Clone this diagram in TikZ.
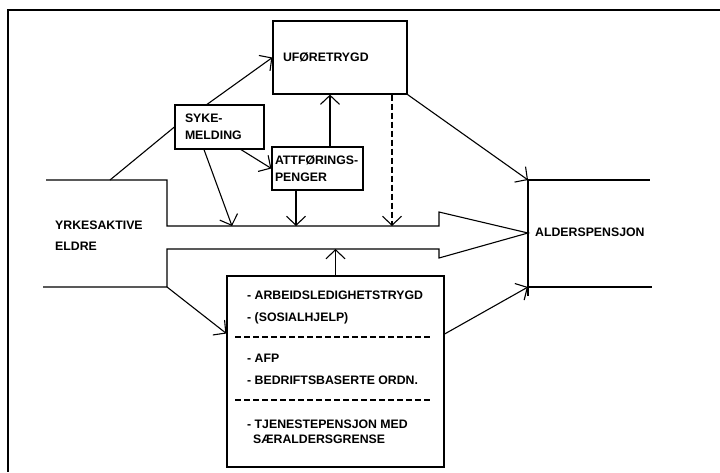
\documentclass[tikz,border=0pt]{standalone}
\usepackage{fontspec}
\setmainfont{Liberation Sans}
\usetikzlibrary{arrows.meta,calc}
\tikzset{
  lbl/.style={font=\fontsize{12.3}{17}\selectfont\bfseries},
  box/.style={draw, line width=1.2pt, lbl, align=left, inner ysep=0pt},
  arr/.style={line width=1.1pt, -{Straight Barb[length=9pt,width=19pt,line width=1.1pt]}},
  ln/.style={line width=1.1pt},
}
\begin{document}
\begin{tikzpicture}[x=1pt,y=-1pt]
\useasboundingbox (0,0) rectangle (720,472);
% frame (top and left)
\draw[line width=2pt] (720,9.5) -- (8,9.5) -- (8,472);
% boxes
\node[box, minimum height=73pt, inner xsep=10pt, text width=114pt] (ufore) at (340,57.5) {UFØRETRYGD};
\node[box, minimum height=44pt, inner xsep=10pt, text width=69pt] (syke) at (219.5,127) {SYKE-\\MELDING};
\node[box, minimum height=43pt, inner xsep=3pt, text width=85pt] (attf) at (317.5,168.5) {ATTFØRINGS-\\PENGER};
\node[draw, line width=1.2pt, minimum width=217pt, minimum height=191pt, inner sep=0pt] (low) at (335.5,371.5) {};
% texts in the lower box
\node[lbl, anchor=base west, inner sep=0pt] (t1) at (247,299.4) {- ARBEIDSLEDIGHETSTRYGD};
\node[lbl, anchor=base west, inner sep=0pt] (t2) at (247,321.4) {- (SOSIALHJELP)};
\node[lbl, anchor=base west, inner sep=0pt] (t3) at (247,362.4) {- AFP};
\node[lbl, anchor=base west, inner sep=0pt] (t4) at (247,384.4) {- BEDRIFTSBASERTE ORDN.};
\node[lbl, anchor=base west, inner sep=0pt] (t5) at (247,428.4) {- TJENESTEPENSJON MED};
\node[lbl, anchor=base west, inner sep=0pt] (t6) at (253,443.4) {SÆRALDERSGRENSE};
\coordinate (d1a) at (235,337); \coordinate (d1b) at (431,337);
\coordinate (d2a) at (235,400); \coordinate (d2b) at (431,400);
\draw[line width=1.1pt, dash pattern=on 6pt off 3pt] (d1a) -- (d1b);
\draw[line width=1.1pt, dash pattern=on 6pt off 3pt] (d2a) -- (d2b);
% side labels
\node[lbl, anchor=base west, inner sep=0pt] (yrk) at (55,229.4) {YRKESAKTIVE};
\node[lbl, anchor=base west, inner sep=0pt] (eld) at (55,250.4) {ELDRE};
\node[lbl, anchor=base west, inner sep=0pt] (alder) at (535,236.4) {ALDERSPENSJON};
% big pipe / arrow
\coordinate (ul) at (46,180);
\coordinate (uc) at (167,180);
\coordinate (ll) at (43,287);
\coordinate (lc) at (167,287);
\coordinate (tip) at (528,233);
\draw[ln] (ul) -- (uc) -- (167,226) -- (439,226) -- (439,212) -- (tip)
   -- (439,258) -- (439,249) -- (167,249) -- (lc) -- (ll);
% right side
\coordinate (rt) at (528,180);
\coordinate (rb) at (528,287);
\draw[ln] (528,180) -- (528,296);
\draw[ln] (rt) -- (650,180);
\draw[ln] (rb) -- (652,287);
% connectors
\coordinate (c1) at (110,180);
\draw[ln] (c1) -- (syke.west);
\draw[arr] ([xshift=-12.5pt]syke.north) -- (ufore.west);
\coordinate (p1) at (232,226);
\draw[arr] ([xshift=-15.5pt]syke.south) -- (p1);
\draw[arr] ([xshift=21.5pt]syke.south) -- (attf.west);
\coordinate (a5) at ([xshift=-21.5pt]attf.south);
\coordinate (p2) at (296,226);
\draw[arr] (a5) -- (p2);
\coordinate (a6) at ([xshift=12.5pt]attf.north);
\draw[arr] (a6) -- (a6 |- ufore.south);
\coordinate (a7) at ([xshift=52pt]ufore.south);
\coordinate (p3) at (392,226);
\draw[arr, dash pattern=on 6pt off 3pt] (a7) -- (p3);
\draw[arr] (ufore.south east) -- (rt);
\coordinate (p4) at (335.5,249);
\draw[arr] (low.north) -- (p4);
\draw[arr] (lc) -- ([yshift=38pt]low.west);
\draw[arr] ([yshift=37.5pt]low.east) -- (rb);
\end{tikzpicture}
\end{document}
